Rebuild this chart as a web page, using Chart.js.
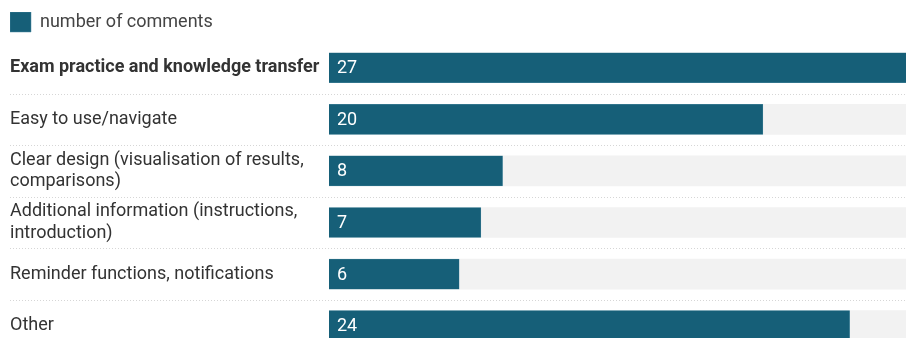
<!DOCTYPE html>
<html>
<head>
<meta charset="utf-8">
<script src="https://cdn.jsdelivr.net/npm/chart.js@4.4.0/dist/chart.umd.min.js"></script>
<style>
html,body{margin:0;padding:0;overflow:hidden;background:#fff;}
#wrap{position:relative;width:906px;height:362px;}
</style>
</head>
<body>
<div id="wrap"><canvas id="c"></canvas></div>
<script>
const categories = [
  "Exam practice and knowledge transfer",
  "Easy to use/navigate",
  ["Clear design (visualisation of results,", "comparisons)"],
  ["Additional information (instructions,", "introduction)"],
  "Reminder functions, notifications",
  "Other"
];
const comments = [27, 20, 8, 7, 6, 24];
const seriesName = "number of comments";
const X_MAX = 26.6;

const BAR = "#165f78";
const TRACK = "#f2f2f2";
const FONT = "Roboto, 'Liberation Sans', sans-serif";

const separators = {
  id: "separators",
  beforeDatasetsDraw(chart) {
    const y = chart.scales.y, ctx = chart.ctx;
    ctx.save();
    ctx.strokeStyle = "#d6d6d6";
    ctx.lineWidth = 1;
    ctx.setLineDash([1, 2]);
    for (let i = 0; i < categories.length - 1; i++) {
      const py = Math.round((y.getPixelForValue(i) + y.getPixelForValue(i + 1)) / 2) + 0.5;
      ctx.beginPath();
      ctx.moveTo(10, py);
      ctx.lineTo(chart.width, py);
      ctx.stroke();
    }
    ctx.restore();
  }
};

const valueLabels = {
  id: "valueLabels",
  afterDatasetsDraw(chart) {
    const meta = chart.getDatasetMeta(1);
    const ctx = chart.ctx;
    ctx.save();
    ctx.fillStyle = "#ffffff";
    ctx.font = "18px " + FONT;
    ctx.textAlign = "left";
    ctx.textBaseline = "middle";
    meta.data.forEach((el, i) => {
      ctx.fillText(String(comments[i]), el.base + 8, el.y + 1);
    });
    ctx.restore();
  }
};

new Chart(document.getElementById("c"), {
  type: "bar",
  data: {
    labels: categories,
    datasets: [
      {
        label: "track",
        data: categories.map(() => X_MAX),
        backgroundColor: TRACK,
        barThickness: 30,
        grouped: false,
        order: 2
      },
      {
        label: seriesName,
        data: comments,
        backgroundColor: BAR,
        borderColor: "#4d8aa0",
        borderWidth: 0.5,
        barThickness: 30,
        grouped: false,
        order: 1
      }
    ]
  },
  options: {
    indexAxis: "y",
    responsive: true,
    maintainAspectRatio: false,
    animation: false,
    layout: { padding: { left: 10, right: 0, top: 12, bottom: 0 } },
    plugins: {
      tooltip: { enabled: false },
      legend: {
        display: true,
        align: "start",
        labels: {
          filter: (item) => item.datasetIndex === 1,
          boxWidth: 21,
          boxHeight: 20,
          color: "#444",
          font: { family: FONT, size: 18 },
          padding: 0
        }
      }
    },
    scales: {
      x: {
        display: false,
        min: 0,
        max: X_MAX
      },
      y: {
        afterFit(scale) { scale.width = 319; },
        grid: { display: false, drawTicks: false },
        border: { display: false },
        ticks: {
          crossAlign: "far",
          padding: 0,
          color: "#333",
          font: (ctx) => ({
            family: FONT,
            size: 18,
            weight: ctx.index === 0 ? "bold" : "normal",
            lineHeight: 1.17
          })
        }
      }
    }
  },
  plugins: [separators, valueLabels]
});
</script>
</body>
</html>
